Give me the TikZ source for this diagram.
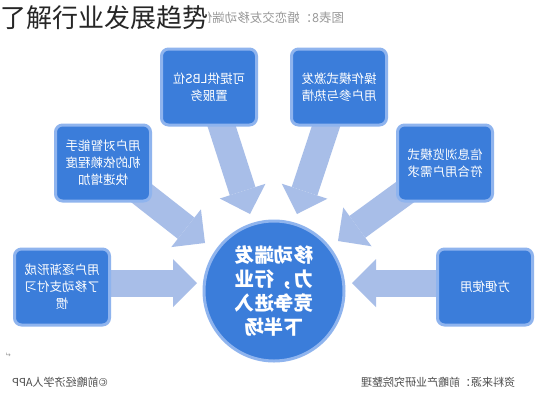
\documentclass[tikz,border=0pt]{standalone}
\usepackage{fontspec}
\setmainfont{Noto Sans CJK SC}
\newfontfamily\symfont{DejaVu Sans}
\usetikzlibrary{arrows.meta,positioning,calc}
\definecolor{boxblue}{HTML}{3B7DDA}
\definecolor{rimblue}{HTML}{8FB4EE}
\definecolor{arrowblue}{HTML}{A8BEE8}
\pgfdeclarelayer{background}
\pgfsetlayers{background,main}

\begin{document}
\begin{tikzpicture}[
    x=1pt, y=-1pt,
    box/.style={draw=rimblue, line width=3pt, fill=boxblue, rounded corners=7pt, minimum width=95pt, minimum height=76pt, text=white, font=\fontsize{12.5}{17}\selectfont, align=center, xscale=-1},
    hub/.style={circle, draw=rimblue, line width=3pt, fill=boxblue, minimum size=140pt, text=white, font=\fontsize{19.5}{24}\selectfont\bfseries, align=center, xscale=-1},
    bigarr/.style={draw=arrowblue, line width=27pt, -{Triangle[length=24pt, width=48pt, line width=0pt, fill=arrowblue]}},
    note/.style={text=black!70, font=\fontsize{11}{13}\selectfont, xscale=-1},
  ]
  \useasboundingbox (0,0) rectangle (557,400);

  % Heading
  \node[note, text=black!40, font=\fontsize{12.5}{14}\selectfont] (fig) at (272,18) {图表8：婚恋交友移动端优};
  \node[anchor=west, inner sep=0pt, fill=white, text=black!85, font=\fontsize{26}{28}\selectfont] (title) at (0,18) {了解行业发展趋势};

  % Centre
  \node[hub] (hub) at (274,291) {移动端发\\力，行业\\竞争进入\\下半场};

  % Reasons
  \node[box] (lbs) at (209,87) {可提供LBS位\\置服务};
  \node[box] (play) at (339,87) {操作模式激发\\用户参与热情};
  \node[box] (phone) at (103,163) {用户对智能手\\机的依赖程度\\快速增加};
  \node[box] (info) at (445,163) {信息浏览模式\\符合用户需求};
  \node[box] (pay) at (62,287) {用户逐渐形成\\了移动支付习\\惯};
  \node[box] (easy) at (485,287) {方便使用};

  % Arrow tips
  \coordinate (tlbs) at (250,214);
  \coordinate (tplay) at (297,214);
  \coordinate (tphone) at (205,243);
  \coordinate (tinfo) at (338,241);
  \coordinate (tpay) at (197,283);
  \coordinate (teasy) at (352,283);

  % Arrows
  \begin{pgfonlayer}{background}
    \fill[white] (0,0) rectangle (557,400);
    \draw[bigarr] (lbs.center) -- (tlbs);
    \draw[bigarr] (play.center) -- (tplay);
    \draw[bigarr] (phone.center) -- (tphone);
    \draw[bigarr] (info.center) -- (tinfo);
    \draw[bigarr] (pay.center |- tpay) -- (tpay);
    \draw[bigarr] (easy.center |- teasy) -- (teasy);
  \end{pgfonlayer}

  % Footer
  \node[note, text=black!40, font=\symfont\fontsize{7}{8}\selectfont] (ret) at (8,355) {↵};
  \node[note] (app) at (60,382) {©前瞻经济学人APP};
  \node[note] (src) at (438,382) {资料来源：前瞻产业研究院整理};
\end{tikzpicture}
\end{document}
